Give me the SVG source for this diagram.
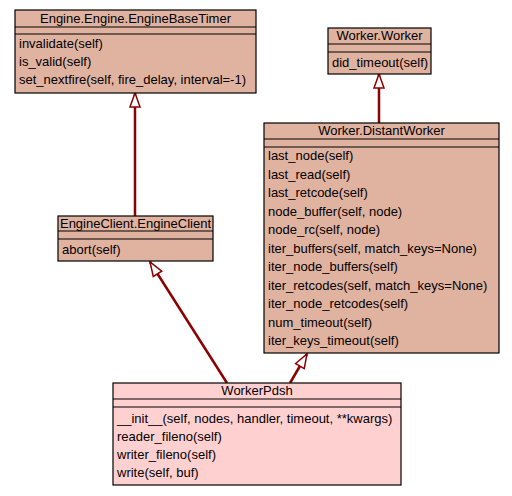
<svg xmlns="http://www.w3.org/2000/svg" width="512" height="496" viewBox="0 0 512 496">
<style>
.box{fill:#e0b2a0;stroke:#000;stroke-width:1.2}
.pink{fill:#ffd0d0;stroke:#000;stroke-width:1.2}
.sep{stroke:#000;stroke-width:1.2}
text{font-family:"Liberation Sans",Arial,sans-serif;font-size:13px;fill:#000}
.t{text-anchor:middle}
.edge{stroke:#8b0000;stroke-width:2.5;fill:none}
</style>
<defs>
<marker id="inh" markerUnits="userSpaceOnUse" markerWidth="16" markerHeight="12" viewBox="-1 -1 16 12" refX="14" refY="5" orient="auto" overflow="visible">
<path d="M0,0 L14,5 L0,10 z" fill="#fff" stroke="#8b0000" stroke-width="1.5"/>
</marker>
</defs>
<g id="connectors">
<path class="edge" d="M135,216 L135,93" marker-end="url(#inh)"/>
<path class="edge" d="M379,123 L379,74" marker-end="url(#inh)"/>
<path class="edge" d="M227,383 L150,262" marker-end="url(#inh)"/>
<path class="edge" d="M290,383 L307,354" marker-end="url(#inh)"/>
</g>
<g id="EngineBaseTimer">
<rect class="box" x="15" y="10" width="241" height="83"/>
<line class="sep" x1="15" y1="27" x2="256" y2="27"/>
<line class="sep" x1="15" y1="34" x2="256" y2="34"/>
<text class="t" x="135.5" y="23">Engine.Engine.EngineBaseTimer</text>
<text x="19" y="48">invalidate(self)</text>
<text x="19" y="66">is_valid(self)</text>
<text x="19" y="84">set_nextfire(self, fire_delay, interval=-1)</text>
</g>
<g id="Worker">
<rect class="box" x="328" y="28" width="103" height="46"/>
<line class="sep" x1="328" y1="44" x2="431" y2="44"/>
<line class="sep" x1="328" y1="52" x2="431" y2="52"/>
<text class="t" x="379.5" y="40">Worker.Worker</text>
<text x="332" y="67">did_timeout(self)</text>
</g>
<g id="DistantWorker">
<rect class="box" x="264" y="123" width="235" height="230"/>
<line class="sep" x1="264" y1="139" x2="499" y2="139"/>
<line class="sep" x1="264" y1="147" x2="499" y2="147"/>
<text class="t" x="381.5" y="135">Worker.DistantWorker</text>
<text x="268" y="160">last_node(self)</text>
<text x="268" y="178.5">last_read(self)</text>
<text x="268" y="197">last_retcode(self)</text>
<text x="268" y="215.5">node_buffer(self, node)</text>
<text x="268" y="234">node_rc(self, node)</text>
<text x="268" y="252.5">iter_buffers(self, match_keys=None)</text>
<text x="268" y="271">iter_node_buffers(self)</text>
<text x="268" y="289.5">iter_retcodes(self, match_keys=None)</text>
<text x="268" y="308">iter_node_retcodes(self)</text>
<text x="268" y="326.5">num_timeout(self)</text>
<text x="268" y="345">iter_keys_timeout(self)</text>
</g>
<g id="EngineClient">
<rect class="box" x="58" y="216" width="155" height="45"/>
<line class="sep" x1="58" y1="231" x2="213" y2="231"/>
<line class="sep" x1="58" y1="239" x2="213" y2="239"/>
<text class="t" x="135.5" y="228">EngineClient.EngineClient</text>
<text x="62" y="254">abort(self)</text>
</g>
<g id="WorkerPdsh">
<rect class="pink" x="113" y="383" width="288" height="102"/>
<line class="sep" x1="113" y1="399" x2="401" y2="399"/>
<line class="sep" x1="113" y1="407" x2="401" y2="407"/>
<text class="t" x="257" y="395">WorkerPdsh</text>
<text x="117" y="423">__init__(self, nodes, handler, timeout, **kwargs)</text>
<text x="117" y="441">reader_fileno(self)</text>
<text x="117" y="459">writer_fileno(self)</text>
<text x="117" y="477">write(self, buf)</text>
</g>
</svg>
